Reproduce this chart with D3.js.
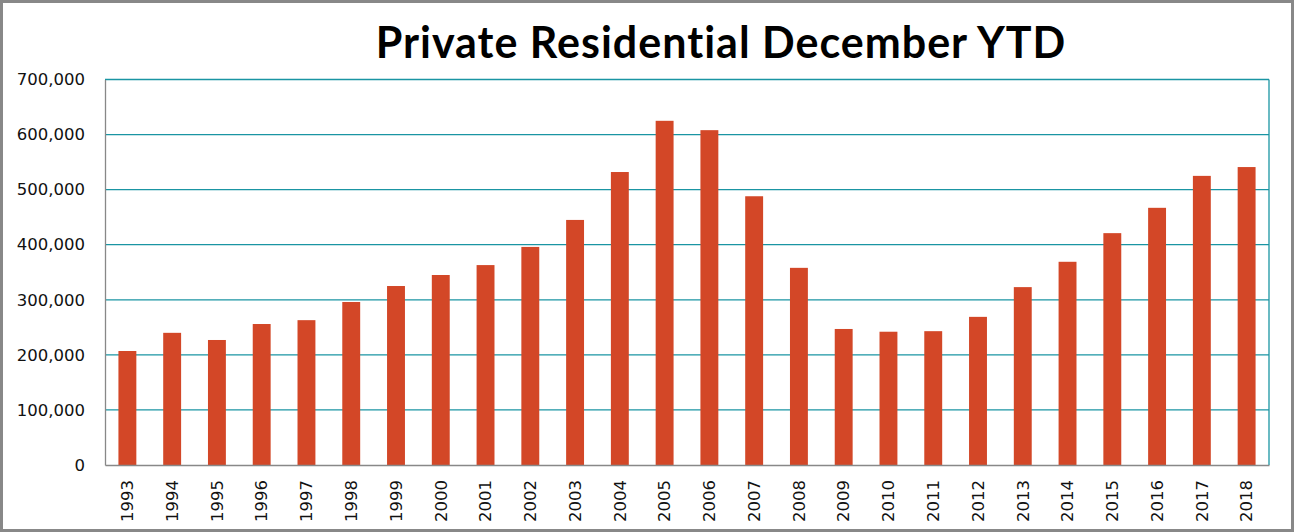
<!DOCTYPE html>
<html><head><meta charset="utf-8">
<script src="https://cdn.jsdelivr.net/npm/d3@7"></script>
<style>
html,body{margin:0;padding:0;background:#fff;}
svg{display:block;}
</style></head>
<body>
<svg id="chart" width="1294" height="532"></svg>
<script>
const years = ["1993","1994","1995","1996","1997","1998","1999","2000","2001","2002","2003","2004","2005","2006","2007","2008","2009","2010","2011","2012","2013","2014","2015","2016","2017","2018"];
const values = [207000,240000,227000,256000,263000,296000,325000,345000,363000,396000,445000,532000,625000,608000,488000,358000,247000,242000,243000,269000,323000,369000,421000,467000,525000,541000];
const yTicks = [0,100000,200000,300000,400000,500000,600000,700000];
const title = "Private Residential December YTD";

const svg = d3.select("#chart");
const W = 1294, H = 532;
const m = {left:105, right:1269, top:79.5, bottom:465};

svg.append("rect").attr("x",1.5).attr("y",1.5).attr("width",W-3).attr("height",H-3)
  .attr("fill","#fff").attr("stroke","#888").attr("stroke-width",3);

const x = d3.scaleBand().domain(years).range([m.left,m.right]).paddingInner(0.6).paddingOuter(0.3);
const y = d3.scaleLinear().domain([0,700000]).range([m.bottom,m.top]);

// gridlines
svg.append("g").selectAll("line").data(yTicks.filter(d=>d>0)).join("line")
  .attr("x1",m.left).attr("x2",m.right)
  .attr("y1",d=>y(d)).attr("y2",d=>y(d))
  .attr("stroke","#1a95a3").attr("stroke-width",1.3);
// right border of plot
svg.append("line").attr("x1",m.right).attr("x2",m.right).attr("y1",m.top).attr("y2",m.bottom)
  .attr("stroke","#1a95a3").attr("stroke-width",1.3);

// bars
svg.append("g").selectAll("rect").data(years).join("rect")
  .attr("x",d=>x(d)).attr("width",x.bandwidth())
  .attr("y",(d,i)=>y(values[i])).attr("height",(d,i)=>y(0)-y(values[i]))
  .attr("fill","#d34727");

// axes
const fmt = d3.format(",");
const yAxis = svg.append("g").attr("transform",`translate(${m.left},0)`)
  .call(d3.axisLeft(y).tickValues(yTicks).tickFormat(d=>fmt(d)).tickSize(0).tickPadding(20));
yAxis.select(".domain").attr("stroke","#888").attr("stroke-width",1.3);
yAxis.selectAll("text").attr("font-family","DejaVu Sans").attr("font-size","16.5px").attr("fill","#111");

const xAxis = svg.append("g").attr("transform",`translate(0,${m.bottom})`)
  .call(d3.axisBottom(x).tickSize(0).tickPadding(0));
xAxis.select(".domain").attr("stroke","#888").attr("stroke-width",1.3);
xAxis.selectAll("text")
  .attr("font-family","DejaVu Sans").attr("font-size","16.5px").attr("fill","#111")
  .attr("transform","rotate(-90)")
  .attr("text-anchor","end").attr("dy","0.35em").attr("x",-15).attr("y",0);

svg.append("text").attr("x",721).attr("y",58).attr("text-anchor","middle")
  .attr("font-family","Lato").attr("font-weight","bold").attr("font-size","43px")
  .attr("letter-spacing","1px")
  .attr("fill","#000").text(title);
</script>
</body></html>
